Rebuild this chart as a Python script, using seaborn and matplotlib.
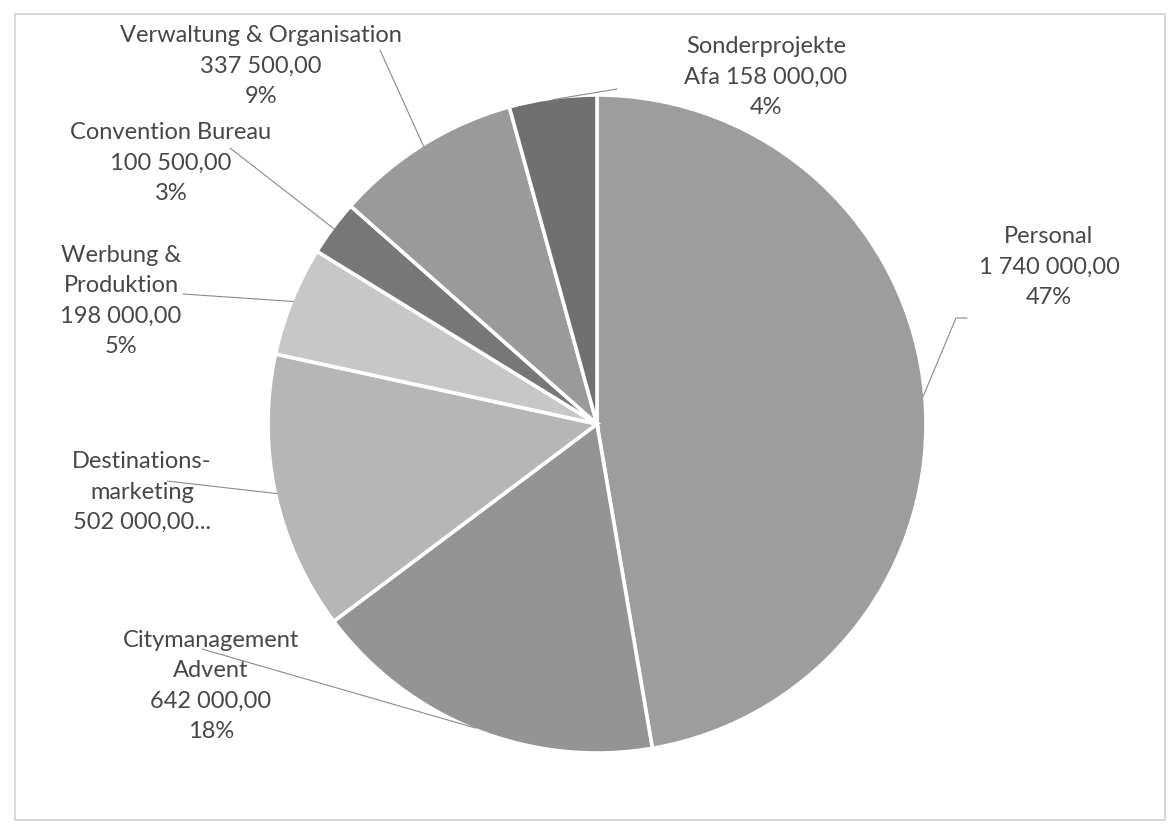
import numpy as np
import matplotlib
matplotlib.use("Agg")
import matplotlib.pyplot as plt
from matplotlib.patches import Rectangle
import seaborn as sns

# Budget categories (clockwise from 12 o'clock)
categories = ["Personal", "Citymanagement Advent", "Destinationsmarketing",
              "Werbung & Produktion", "Convention Bureau",
              "Verwaltung & Organisation", "Sonderprojekte Afa"]
values = [1740000.00, 642000.00, 502000.00, 198000.00, 100500.00, 337500.00, 158000.00]
label_texts = [
    "Personal\n1 740 000,00\n47%",
    "Citymanagement\nAdvent\n642 000,00\n18%",
    "Destinations-\nmarketing\n502 000,00...",
    "Werbung &\nProduktion\n198 000,00\n5%",
    "Convention Bureau\n100 500,00\n3%",
    "Verwaltung & Organisation\n337 500,00\n9%",
    "Sonderprojekte\nAfa 158 000,00\n4%",
]
slice_grays = ["#9d9d9d", "#949494", "#b6b6b6", "#c7c7c7", "#777777", "#9a9a9a", "#707070"]

sns.set_theme(style="white")
plt.rcParams["font.family"] = ["Lato", "DejaVu Sans"]

W, H = 1172, 834
fig = plt.figure(figsize=(W / 100, H / 100), dpi=100)
fig.patch.set_facecolor("white")
ax = fig.add_axes([0, 0, 1, 1])

# work in pixel-like units, y measured upwards
cx, cy, R = 597, H - 424, 329
palette = sns.color_palette(slice_grays)
wedges, _ = ax.pie(values, colors=palette, startangle=90, counterclock=False,
                   center=(cx, cy), radius=R,
                   wedgeprops=dict(edgecolor="white", linewidth=2.6))
ax.set_xlim(0, W)
ax.set_ylim(0, H)
ax.set_aspect("equal")
ax.axis("off")

# outer chart-area frame
ax.add_patch(Rectangle((15, H - 820), 1150, 806, fill=False,
                       edgecolor="#cfcfcf", linewidth=1.1, zorder=0))

# label block centres (x, y from top) and leader-line end points near the text
label_pos = [(1049, 267), (211, 686), (142, 492), (121, 301),
             (171, 163), (261, 66), (766, 77)]
leader_ends = [[(967, 318), (956, 318)], [(202, 649)], [(167, 481)], [(183, 294)],
               [(230, 148)], [(380, 50)], [(617, 89)]]

text_color = "#474747"
for w, txt, (lx, ly), ends in zip(wedges, label_texts, label_pos, leader_ends):
    ax.text(lx, H - ly, txt, ha="center", va="center", fontsize=17,
            color=text_color, linespacing=1.56)
    mid = np.deg2rad((w.theta1 + w.theta2) / 2)
    ax_x = cx + R * 0.995 * np.cos(mid)
    ax_y = cy + R * 0.995 * np.sin(mid)
    xs = [e[0] for e in ends] + [ax_x]
    ys = [H - e[1] for e in ends] + [ax_y]
    ax.plot(xs, ys, color="#8a8a8a", linewidth=0.8, zorder=3)

fig.savefig("out.png", dpi=100, facecolor="white")
